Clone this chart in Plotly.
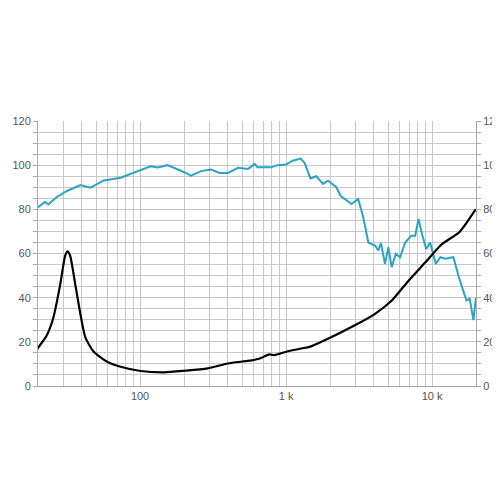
import plotly.graph_objects as go

spl_f = [19.6,22.3,23.6,26.9,31.6,39,45.7,56.5,73.6,90.9,118,132,154,201,223,262,307,350,400,469,549,611,637,788,876,1000,1110,1260,1340,1470,1610,1790,1940,2210,2370,2810,3120,3380,3660,4070,4280,4470,4760,5020,5290,5640,6040,6550,7200,7660,8080,8520,9120,9700,10600,11400,12300,14000,15300,17200,18100,19200,20000]
spl_db = [80.5,83.3,82.3,85.6,88.3,91,89.8,93.1,94.3,96.5,99.5,99,100,96.8,95.3,97.3,98,96.5,96.5,98.8,98.3,100.6,99,99,100,100.3,102,103,101,94,95,91.5,93,90,86,82.4,84.7,76.4,65,63.6,61.4,64.7,55.3,62.8,53.8,59.8,58.3,65,68,68,75.6,68.9,62.1,65,55.3,58.3,57.6,58.3,49,38.8,39.5,29.8,40]
imp_f = [19.6,23,25.5,28.4,30.7,31.9,33.2,36,39,42.2,48.2,59.5,73.6,101,146,201,291,400,645,768,831,1000,1270,1450,1840,2960,4070,5300,6900,9000,11700,15300,17900,19900]
imp_v = [16.5,23,31,46,59,61,59,46,32.7,22,15.5,11,8.7,6.8,6.2,6.9,8,10.2,12.2,14.3,14,15.5,17,17.7,20.7,27.5,32.7,38.7,47.7,56,64.3,69.5,75.5,80]

xt = []
for d in [10,100,1000,10000]:
    for m in range(1,10):
        v = d*m
        if 20 <= v <= 20000:
            xt.append(v)
xlab = {100:"100",1000:"1 k",10000:"10 k"}
xtext = [xlab.get(v,"") for v in xt]
yt = list(range(0,121,5))
ytext = [str(v) if v % 20 == 0 else "" for v in yt]

fig = go.Figure()
fig.add_trace(go.Scatter(x=spl_f, y=spl_db, mode="lines", line=dict(color="#2aa3c8", width=2), showlegend=False))
fig.add_trace(go.Scatter(x=imp_f, y=imp_v, mode="lines", line=dict(color="#000000", width=2.2, shape="spline", smoothing=0.6), showlegend=False))
fig.add_trace(go.Scatter(x=[20], y=[0], yaxis="y2", mode="markers", marker=dict(opacity=0), showlegend=False, hoverinfo="skip"))

fnt = dict(family="Liberation Sans", size=11, color="#555")
fig.update_layout(
    width=500, height=500, paper_bgcolor="white", plot_bgcolor="white",
    margin=dict(l=30, r=32, t=113, b=122, autoexpand=False),
    xaxis=dict(type="log", range=[1.30103, 4.30103], tickvals=xt, ticktext=xtext, showgrid=True,
               gridcolor="#c8c8c8", gridwidth=1, ticks="", tickfont=fnt, zeroline=False,
               showline=True, linecolor="#aaa", automargin=False),
    yaxis=dict(range=[0,120], tickvals=yt, ticktext=ytext, showgrid=True, gridcolor="#c8c8c8",
               tickfont=fnt, zeroline=False, ticks="outside", ticklen=4, tickcolor="#aaa",
               showline=True, linecolor="#aaa", automargin=False),
    yaxis2=dict(range=[0,120], tickvals=yt, ticktext=ytext, overlaying="y", side="right",
                showgrid=False, tickfont=fnt, zeroline=False, ticks="outside", ticklen=4,
                tickcolor="#aaa", showline=True, linecolor="#aaa", automargin=False),
)
fig.write_html("out.html")
